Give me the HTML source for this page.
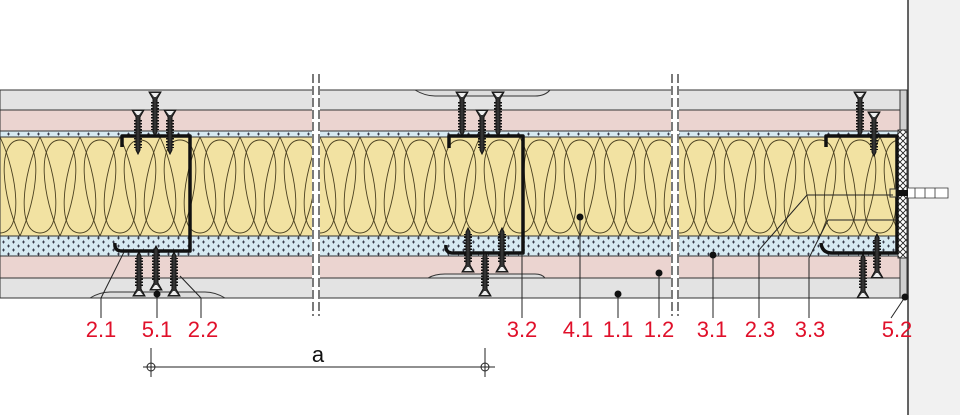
<!DOCTYPE html>
<html><head><meta charset="utf-8"><style>body{margin:0;background:#fff}svg{display:block}</style></head><body>
<svg width="960" height="415" viewBox="0 0 960 415" xmlns="http://www.w3.org/2000/svg" font-family="Liberation Sans, sans-serif">
<defs>
<pattern id="dots" width="10" height="8" patternUnits="userSpaceOnUse">
<rect width="10" height="8" fill="#d6e9f1"/>
<path d="M2,2h3M3.5,0.5v3M7,6h3M8.5,4.5v3" stroke="#223" stroke-width="0.8"/>
</pattern>
<pattern id="ins" x="0" y="137" width="40" height="99" patternUnits="userSpaceOnUse">
<rect width="40" height="99" fill="#f2e2a2"/>
<path d="M20,99 C2,60 -4,3 20,3 C44,3 38,60 20,99" fill="none" stroke="#4a4020" stroke-width="0.9"/>
<path d="M40,0 C22,38 16,96 40,96 C64,96 58,38 40,0 M0,0 C-18,38 -24,96 0,96 C24,96 18,38 0,0" fill="none" stroke="#4a4020" stroke-width="0.9"/>
</pattern>
<pattern id="hatch" width="6" height="6" patternUnits="userSpaceOnUse">
<rect width="6" height="6" fill="#fff"/>
<path d="M0,0L6,6M6,0L0,6" stroke="#222" stroke-width="0.9"/>
</pattern>
<g id="screw"><path d="M-6,0 L6,0 L2,7 L2,40 L0,44 L-2,40 L-2,7 Z" fill="#333" stroke="#111" stroke-width="1"/><path d="M-3,10v28M3,10v28" stroke="#111" stroke-width="2" stroke-dasharray="1.5 1.5"/><path d="M-4,1 L4,1 L1,5 L-1,5Z" fill="#eee"/></g>
</defs>
<rect x="908" y="0" width="52" height="415" fill="#f1f1f1"/>
<line x1="908" y1="0" x2="908" y2="415" stroke="#333" stroke-width="1.5"/>
<g stroke="#333" stroke-width="1">
<rect x="0" y="90" width="900" height="20" fill="#e3e3e3"/>
<rect x="0" y="110" width="900" height="21" fill="#ebd4d0"/>
<rect x="0" y="131" width="900" height="6" fill="url(#dots)"/>
<rect x="0" y="137" width="900" height="99" fill="url(#ins)"/>
<rect x="0" y="236" width="900" height="20" fill="url(#dots)"/>
<rect x="0" y="256" width="900" height="22" fill="#ebd4d0"/>
<rect x="0" y="278" width="900" height="20" fill="#e3e3e3"/>
<rect x="900" y="90" width="7" height="208" fill="#cfcfcf"/>
<rect x="898" y="130" width="9" height="128" fill="url(#hatch)"/>
</g>
<g fill="#ddd" stroke="#333" stroke-width="1">
<path d="M90,298 Q100,292 110,292 L205,292 Q215,292 225,298Z"/>
<path d="M415,90 Q425,96 435,96 L535,96 Q545,96 550,90Z"/>
<path d="M428,278 Q435,274 445,274 L535,274 Q542,274 545,278Z"/>
</g>
<g fill="none" stroke="#111" stroke-width="3.5" stroke-linejoin="round">
<path d="M122,147 V136 H190 V251 H122 Q114,251 115,243"/>
<path d="M449,148 V136 H523 V253 H453 Q445,253 446,245"/>
<path d="M826,147 V136 H897 V253 H832 Q822,253 821,243"/>
</g>
<use href="#screw" x="155" y="92"/><use href="#screw" x="138" y="110"/><use href="#screw" x="170" y="110"/>
<use href="#screw" transform="translate(139,296) scale(1,-1)"/><use href="#screw" transform="translate(156,290) scale(1,-1)"/><use href="#screw" transform="translate(174,296) scale(1,-1)"/>
<use href="#screw" x="462" y="92"/><use href="#screw" x="482" y="110"/><use href="#screw" x="498" y="92"/>
<use href="#screw" transform="translate(468,272) scale(1,-1)"/><use href="#screw" transform="translate(485,296) scale(1,-1)"/><use href="#screw" transform="translate(502,272) scale(1,-1)"/>
<use href="#screw" x="860" y="92"/><use href="#screw" x="874" y="112"/>
<use href="#screw" transform="translate(863,298) scale(1,-1)"/><use href="#screw" transform="translate(877,278) scale(1,-1)"/>
<rect x="890" y="189" width="6" height="8" fill="#f3e4a6" stroke="#333"/>
<rect x="896" y="190" width="12" height="6" fill="#111"/>
<path d="M908,188 h40 v10 h-40 M915,188v10M925,188v10M935,188v10" fill="#fff" stroke="#333" stroke-width="0.8"/>
<g stroke="#fff" stroke-width="8"><line x1="316" y1="85" x2="316" y2="305"/><line x1="675" y1="85" x2="675" y2="305"/></g>
<g stroke="#222" stroke-width="1.2" stroke-dasharray="9 3"><line x1="313" y1="74" x2="313" y2="316"/><line x1="319" y1="74" x2="319" y2="316"/><line x1="672" y1="74" x2="672" y2="316"/><line x1="678" y1="74" x2="678" y2="316"/></g>
<g stroke="#222" stroke-width="1" fill="none">
<path d="M101,318 V298 L124,252"/>
<path d="M157,318 V294"/>
<path d="M201,318 V298 L180,276"/>
<path d="M522,318 V253"/>
<path d="M580,318 V217"/>
<path d="M618,318 V294"/>
<path d="M659,318 V273"/>
<path d="M713,318 V254"/>
<path d="M759,318 V250 L807,195 H893"/>
<path d="M809,318 V258 L828,220 H897"/>
<path d="M891,318 L905,297"/>
<path d="M143,367 H495 M151,348 V377 M485,348 V377"/>
<circle cx="151" cy="367" r="4"/><circle cx="485" cy="367" r="4"/>
</g>
<g fill="#111"><circle cx="157" cy="294" r="3.5"/><circle cx="580" cy="217" r="3.5"/><circle cx="618" cy="294" r="3.5"/><circle cx="659" cy="273" r="3.5"/><circle cx="713" cy="255" r="3.5"/><circle cx="905" cy="297" r="3.5"/></g>
<g fill="#e0102a" font-size="22" text-anchor="middle">
<text x="101" y="337">2.1</text><text x="157" y="337">5.1</text><text x="203" y="337">2.2</text>
<text x="522" y="337">3.2</text><text x="578" y="337">4.1</text><text x="618" y="337">1.1</text><text x="659" y="337">1.2</text>
<text x="712" y="337">3.1</text><text x="760" y="337">2.3</text><text x="810" y="337">3.3</text><text x="897" y="337">5.2</text>
</g>
<text x="318" y="362" font-size="22" text-anchor="middle" fill="#111">a</text>
</svg>
</body></html>
